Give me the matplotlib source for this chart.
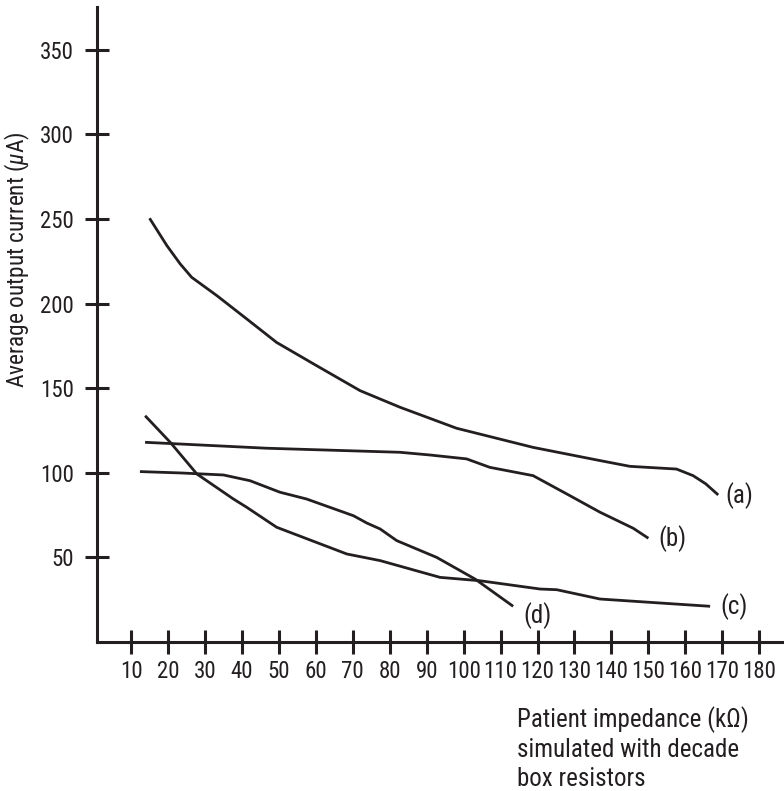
import matplotlib
matplotlib.use("Agg")
import matplotlib.pyplot as plt

INK = "#231f20"
FAMILY = ["Roboto Condensed", "DejaVu Sans"]
plt.rcParams["font.family"] = FAMILY
plt.rcParams["mathtext.fontset"] = "custom"
plt.rcParams["mathtext.rm"] = "Roboto Condensed"
plt.rcParams["mathtext.it"] = "Roboto Condensed:italic"

# Average output current (uA) versus patient impedance (kOhm)
a_x = [15, 19.7, 23.3, 26.4, 33.2, 41.3, 49.4, 60.2, 72, 82.8, 98.1, 118.8, 136.9, 145, 157.6, 162.1, 165.5, 168.9]
a_y = [250.4, 234.2, 223.4, 215.5, 204.7, 190.9, 177, 163.3, 148.5, 138.7, 126.3, 115, 107.2, 103.8, 102.2, 98.3, 93.5, 86.9]

b_x = [13.8, 46.7, 82.8, 90.9, 100.8, 107.1, 118.8, 127.9, 136.9, 145.9, 150]
b_y = [118, 114.5, 112.1, 110.5, 108.2, 103.2, 98.3, 87.5, 76.7, 67.2, 61.3]

c_x = [13.8, 20.6, 23.3, 27.8, 37.7, 41.3, 49.4, 68.4, 77.4, 93.6, 104.4, 120.7, 125.2, 136.9, 150, 166.7]
c_y = [133.7, 118, 111, 99.3, 84.5, 79.6, 67.8, 52, 48.1, 38.2, 36.2, 31.3, 30.9, 25.4, 23.5, 21.1]

d_x = [12.4, 23.3, 35, 42.2, 50.3, 57.5, 70.2, 73.8, 77.4, 81.9, 92.7, 103.1, 113.4]
d_y = [100.7, 99.9, 98.7, 95.3, 88.5, 84.5, 74.6, 70.3, 66.8, 59.9, 50, 37.2, 21.1]

curve_labels = ["(a)", "(b)", "(c)", "(d)"]
label_x = [170.7, 152.6, 169.4, 116.1]
label_y = [86.3, 60.9, 20.7, 15.4]

x_ticks = list(range(10, 181, 10))
y_ticks = [50, 100, 150, 200, 250, 300, 350]

TICK_FS = 16.5
TEXT_FS = 18

fig = plt.figure(figsize=(7.84, 7.91), dpi=100)
ax = fig.add_axes([96.7 / 784, 149 / 791, 687.3 / 784, 635.3 / 791])

for xs, ys in [(a_x, a_y), (b_x, b_y), (c_x, c_y), (d_x, d_y)]:
    ax.plot(xs, ys, color=INK, lw=2.0, solid_capstyle="butt", solid_joinstyle="round")

for txt, lx, ly in zip(curve_labels, label_x, label_y):
    ax.text(lx, ly, txt, fontsize=TEXT_FS, color=INK, ha="left", va="center")

ax.set_xlim(0.7, 186.7)
ax.set_ylim(0, 375.4)
ax.set_xticks(x_ticks)
ax.set_yticks(y_ticks)
ax.tick_params(direction="inout", length=17.3, width=2.2, color=INK,
               labelsize=TICK_FS, labelcolor=INK)
ax.tick_params(axis="y", pad=8)
ax.tick_params(axis="x", pad=4)

for side in ["top", "right"]:
    ax.spines[side].set_visible(False)
for side in ["left", "bottom"]:
    ax.spines[side].set_linewidth(2.2)
    ax.spines[side].set_color(INK)
    ax.spines[side].set_capstyle("projecting")

fig.text(17 / 784, 1 - 260 / 791, r"Average output current ($\mu$A)", rotation=90,
         ha="center", va="center", fontsize=16.8, color=INK)

for txt, base in [("Patient impedance (k\u03a9)", 727),
                  ("simulated with decade", 757),
                  ("box resistors", 786)]:
    fig.text(517 / 784, 1 - base / 791, txt, ha="left", va="baseline",
             fontsize=TEXT_FS, color=INK)

fig.savefig("out.png", dpi=100)
